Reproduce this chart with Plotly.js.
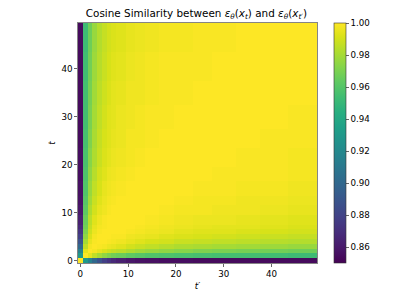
<!DOCTYPE html>
<html><head><meta charset="utf-8"><script src="https://cdn.plot.ly/plotly-3.0.1.min.js"></script>
<style>html,body{margin:0;padding:0;background:#fff}#c{width:400px;height:300px}</style></head><body><div id="c"></div>
<script>
// first step of each band of cells (t and t'), last band ends at step 49
const bandStarts = [0,1,2,3,4,5,6,7,8,10,12,14,17,20,24,28,33,38,44,50];
const xTickValues = [0,10,20,30,40];
const yTickValues = [0,10,20,30,40];
const similarity = [
[1.000,.930,.915,.900,.888,.878,.872,.867,.863,.859,.857,.856,.855,.855,.854,.854,.854,.854,.854],
[.930,1.000,.994,.986,.980,.975,.971,.968,.966,.963,.961,.959,.958,.957,.956,.955,.955,.954,.953],
[.915,.994,1.000,.998,.995,.992,.989,.987,.985,.982,.979,.977,.975,.973,.971,.970,.969,.968,.967],
[.900,.986,.998,1.000,.999,.998,.996,.995,.993,.990,.988,.986,.984,.982,.981,.980,.979,.978,.977],
[.888,.980,.995,.999,1.000,1.000,.999,.998,.997,.995,.993,.991,.990,.988,.987,.986,.985,.984,.983],
[.878,.975,.992,.998,1.000,1.000,1.000,.999,.999,.997,.996,.995,.993,.992,.991,.990,.989,.988,.987],
[.872,.971,.989,.996,.999,1.000,1.000,1.000,1.000,.999,.998,.997,.996,.994,.993,.993,.992,.991,.990],
[.867,.968,.987,.995,.998,.999,1.000,1.000,1.000,1.000,.999,.998,.997,.996,.995,.994,.994,.993,.992],
[.863,.966,.985,.993,.997,.999,1.000,1.000,1.000,1.000,1.000,.999,.998,.997,.996,.996,.995,.994,.993],
[.859,.963,.982,.990,.995,.997,.999,1.000,1.000,1.000,1.000,1.000,.999,.998,.998,.997,.997,.996,.995],
[.857,.961,.979,.988,.993,.996,.998,.999,1.000,1.000,1.000,1.000,1.000,.999,.998,.998,.997,.997,.996],
[.856,.959,.977,.986,.991,.995,.997,.998,.999,1.000,1.000,1.000,1.000,1.000,.999,.999,.998,.998,.997],
[.855,.958,.975,.984,.990,.993,.996,.997,.998,.999,1.000,1.000,1.000,1.000,1.000,.999,.999,.999,.998],
[.855,.957,.973,.982,.988,.992,.994,.996,.997,.998,.999,1.000,1.000,1.000,1.000,1.000,.999,.999,.998],
[.854,.956,.971,.981,.987,.991,.993,.995,.996,.998,.998,.999,1.000,1.000,1.000,1.000,1.000,.999,.999],
[.854,.955,.970,.980,.986,.990,.993,.994,.996,.997,.998,.999,.999,1.000,1.000,1.000,1.000,1.000,.999],
[.854,.955,.969,.979,.985,.989,.992,.994,.995,.997,.997,.998,.999,.999,1.000,1.000,1.000,1.000,1.000],
[.854,.954,.968,.978,.984,.988,.991,.993,.994,.996,.997,.998,.999,.999,.999,1.000,1.000,1.000,1.000],
[.854,.953,.967,.977,.983,.987,.990,.992,.993,.995,.996,.997,.998,.998,.999,.999,1.000,1.000,1.000]
];
const edges = bandStarts.map(s => s - 0.5);
const font = {family:'"DejaVu Sans"', size:8.7, color:'#000'};
const axis = (vals, title) => ({
  range:[-0.5,49.5], tickvals:vals, ticktext:vals.map(String), ticks:'outside', ticklen:3, tickwidth:0.6, tickcolor:'#000',
  showgrid:false, zeroline:false, showline:true, mirror:true, linecolor:'#333', linewidth:0.6,
  tickfont:font, title:{text:title, font:font, standoff:4}
});
Plotly.newPlot('c',[{
  type:'heatmap', x:edges, y:edges, z:similarity, zmin:0.85, zmax:1, colorscale:'Viridis', xgap:0, ygap:0,
  colorbar:{thickness:12, len:1, lenmode:'fraction', x:1.073, xanchor:'left', y:0.5, yanchor:'middle', ypad:0, xpad:0,
    tick0:0.86, dtick:0.02, tickformat:'.2f', ticks:'outside', ticklen:3, tickwidth:0.6, tickcolor:'#000',
    tickfont:font, outlinewidth:0.6, outlinecolor:'#333'}
}],{
  width:400, height:300, paper_bgcolor:'#fff', plot_bgcolor:'#fff',
  margin:{l:78,r:83,t:23,b:37,autoexpand:false},
  title:{text:'Cosine Similarity between <i>ε<sub>θ</sub></i>(<i>x<sub>t</sub></i>) and <i>ε<sub>θ</sub></i>(<i>x<sub>t′</sub></i>)',
    font:{family:'"DejaVu Sans"', size:10.4, color:'#000'}, x:0.491, xanchor:'center', y:0.955, yanchor:'middle'},
  xaxis:axis(xTickValues,'<i>t′</i>'), yaxis:axis(yTickValues,'<i>t</i>')
},{displayModeBar:false,staticPlot:true});
</script></body></html>
